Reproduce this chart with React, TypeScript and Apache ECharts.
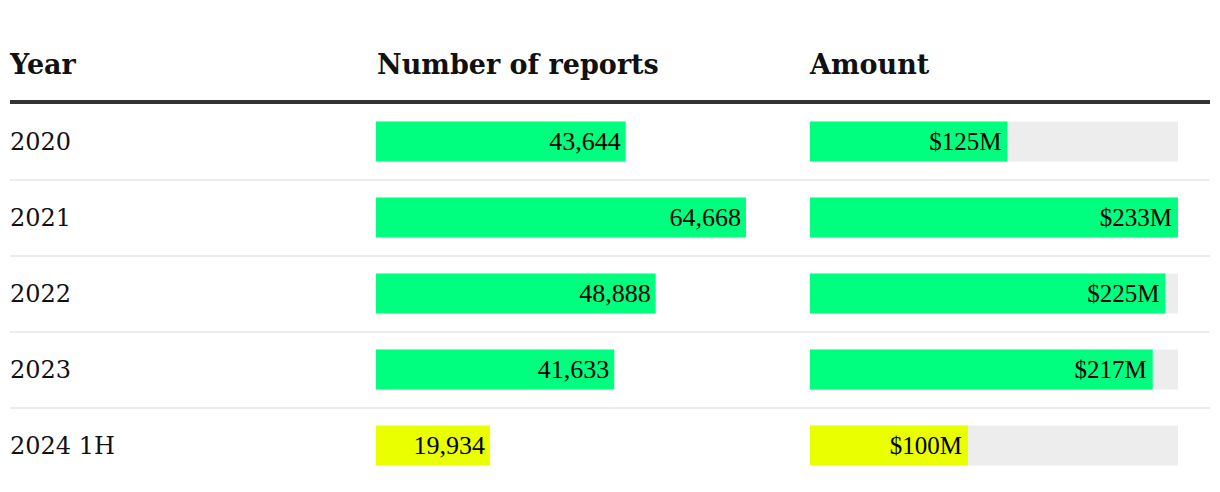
import React, { useEffect, useRef } from "react";
import * as echarts from "echarts";

const years = ["2020", "2021", "2022", "2023", "2024 1H"];
const reports = [43644, 64668, 48888, 41633, 19934];
const amounts = [125, 233, 225, 217, 100];
const partial = [false, false, false, false, true];
const headers = ["Year", "Number of reports", "Amount"];

const GREEN = "#00ff7f";
const YELLOW = "#eaff00";

export default function App() {
  const ref = useRef<HTMLDivElement>(null);
  useEffect(() => {
    if (!ref.current) return;
    const chart = echarts.init(ref.current, undefined, { renderer: "svg" });
    const top = 103.5;
    const height = 380;
    const yBase = {
      type: "category" as const,
      data: years,
      inverse: true,
      axisLine: { show: false },
      axisTick: { show: false },
    };
    const headerStyle = {
      fontFamily: "DejaVu Serif",
      fontWeight: "bold",
      fontSize: 27,
      fill: "#111",
    };
    chart.setOption({
      animation: false,
      backgroundColor: "#fff",
      grid: [
        { left: 376, top, width: 370, height },
        { left: 810, top, width: 368, height },
        { left: 10, top, width: 1200, height },
      ],
      xAxis: [
        { type: "value", gridIndex: 0, min: 0, max: Math.max(...reports), show: false },
        { type: "value", gridIndex: 1, min: 0, max: Math.max(...amounts), show: false },
        { type: "value", gridIndex: 2, min: 0, max: 1, show: false },
      ],
      yAxis: [
        {
          ...yBase,
          gridIndex: 0,
          axisLabel: {
            align: "left",
            margin: 366,
            fontFamily: "DejaVu Serif",
            fontSize: 24,
            color: "#111",
          },
          splitLine: { show: false },
        },
        { ...yBase, gridIndex: 1, axisLabel: { show: false }, splitLine: { show: false } },
        {
          ...yBase,
          gridIndex: 2,
          axisLabel: { show: false },
          splitLine: {
            show: true,
            showMinLine: false,
            showMaxLine: false,
            lineStyle: { color: "#ececec", width: 2 },
          },
        },
      ],
      series: [
        {
          type: "bar",
          xAxisIndex: 0,
          yAxisIndex: 0,
          barWidth: 40,
          data: reports.map((v, i) => ({
            value: v,
            itemStyle: { color: partial[i] ? YELLOW : GREEN },
          })),
          label: {
            show: true,
            position: "insideRight",
            distance: 5,
            fontFamily: "Liberation Serif",
            fontSize: 26,
            color: "#000",
            formatter: (p: any) => Number(p.value).toLocaleString("en-US"),
          },
        },
        {
          type: "bar",
          xAxisIndex: 1,
          yAxisIndex: 1,
          barWidth: 40,
          showBackground: true,
          backgroundStyle: { color: "#ededed" },
          data: amounts.map((v, i) => ({
            value: v,
            itemStyle: { color: partial[i] ? YELLOW : GREEN },
          })),
          label: {
            show: true,
            position: "insideRight",
            distance: 6,
            fontFamily: "Liberation Serif",
            fontSize: 25,
            color: "#000",
            formatter: (p: any) => "$" + p.value + "M",
          },
        },
      ],
      graphic: [
        { type: "text", left: 10, top: 51, style: { ...headerStyle, text: headers[0] } },
        { type: "text", left: 377, top: 51, style: { ...headerStyle, text: headers[1] } },
        { type: "text", left: 810, top: 51, style: { ...headerStyle, text: headers[2] } },
        {
          type: "line",
          shape: { x1: 10, y1: 102, x2: 1210, y2: 102 },
          style: { stroke: "#333", lineWidth: 4 },
        },
      ],
    });
    return () => chart.dispose();
  }, []);
  return (
    <div
      ref={ref}
      style={{ position: "fixed", left: 0, top: 0, width: 1220, height: 492 }}
    />
  );
}
